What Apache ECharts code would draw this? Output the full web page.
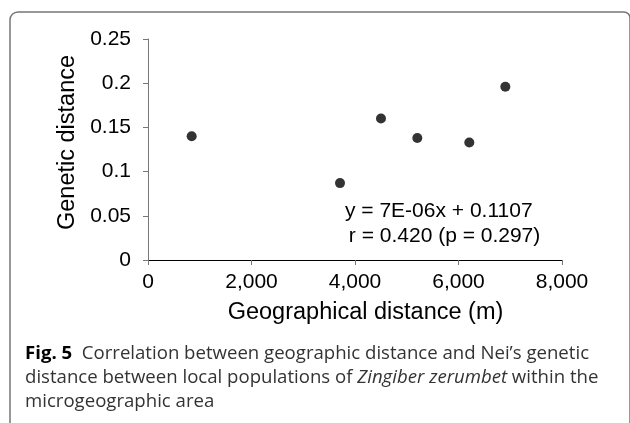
<!DOCTYPE html>
<html>
<head>
<meta charset="utf-8">
<script src="https://cdn.jsdelivr.net/npm/echarts@6/dist/echarts.min.js"></script>
<style>
html,body{margin:0;padding:0;background:#fff;}
#main{width:630px;height:423px;}
</style>
</head>
<body>
<div id="main"></div>
<script>
// Data
var geoDistance = [844, 3710, 4502, 5204, 6209, 6905];
var geneticDistance = [0.140, 0.087, 0.160, 0.138, 0.133, 0.196];
var xTickLabels = ['0', '2,000', '4,000', '6,000', '8,000'];
var yTickLabels = ['0', '0.05', '0.1', '0.15', '0.2', '0.25'];
var xTitle = 'Geographical distance (m)';
var yTitle = 'Genetic distance';
var eqLine1 = 'y = 7E-06x + 0.1107';
var eqLine2 = ' r = 0.420 (p = 0.297)';

var points = geoDistance.map(function (x, i) { return [x, geneticDistance[i]]; });

var chart = echarts.init(document.getElementById('main'), null, {renderer: 'canvas'});
var AX = 'Liberation Sans, Arial, sans-serif';
var CAP = 'Open Sans, Noto Sans, sans-serif';
var CS = 18.6;

chart.setOption({
  animation: false,
  backgroundColor: '#fff',
  grid: {left: 148, right: 68, top: 39, bottom: 163, containLabel: false},
  xAxis: {
    type: 'value', min: 0, max: 8000, interval: 2000,
    name: xTitle, nameLocation: 'middle', nameGap: 41,
    nameTextStyle: {fontFamily: AX, fontSize: 23.5, color: '#000', padding: [0, 0, 0, 21]},
    axisLine: {lineStyle: {color: '#000', width: 1}},
    axisTick: {show: true, length: 5, inside: false, lineStyle: {color: '#777'}},
    axisLabel: {fontFamily: AX, fontSize: 21, color: '#000', margin: 12,
      formatter: function (v) { return xTickLabels[Math.round(v / 2000)]; }},
    splitLine: {show: false}
  },
  yAxis: {
    type: 'value', min: 0, max: 0.25, interval: 0.05,
    name: yTitle, nameLocation: 'middle', nameGap: 64, nameRotate: 90,
    nameTextStyle: {fontFamily: AX, fontSize: 23.5, color: '#000', padding: [0, 0, 0, 14]},
    axisLine: {show: true, lineStyle: {color: '#777', width: 1}},
    axisTick: {show: true, length: 5, inside: false, lineStyle: {color: '#777'}},
    axisLabel: {fontFamily: AX, fontSize: 21, color: '#000', margin: 17,
      formatter: function (v) { return yTickLabels[Math.round(v / 0.05)]; }},
    splitLine: {show: false}
  },
  series: [{
    type: 'scatter',
    data: points,
    symbol: 'circle',
    symbolSize: 10,
    itemStyle: {color: '#000'}
  }],
  graphic: [
    {type: 'rect', shape: {x: 10, y: 12, width: 620, height: 430, r: [8, 6, 0, 0]},
      style: {fill: 'none', stroke: '#777', lineWidth: 1.5}, silent: true},
    {type: 'text', x: 345, y: 201, style: {text: eqLine1, fontFamily: AX, fontSize: 21, fill: '#000'}},
    {type: 'text', x: 343, y: 226, style: {text: eqLine2, fontFamily: AX, fontSize: 21, fill: '#000'}},
    {type: 'text', x: 25, y: 342, style: {
      text: '{b|Fig. 5}  Correlation between geographic distance and Nei\u2019s genetic\ndistance between local populations of {i|Zingiber zerumbet} within the\nmicrogeographic area',
      fontFamily: CAP, fontSize: CS, fill: '#333', lineHeight: 24,
      rich: {
        b: {fontFamily: CAP, fontSize: CS, fontWeight: 'bold', fill: '#000', lineHeight: 24},
        i: {fontFamily: CAP, fontSize: CS, fontStyle: 'italic', fill: '#333', lineHeight: 24}
      }
    }}
  ]
});
</script>
</body>
</html>
